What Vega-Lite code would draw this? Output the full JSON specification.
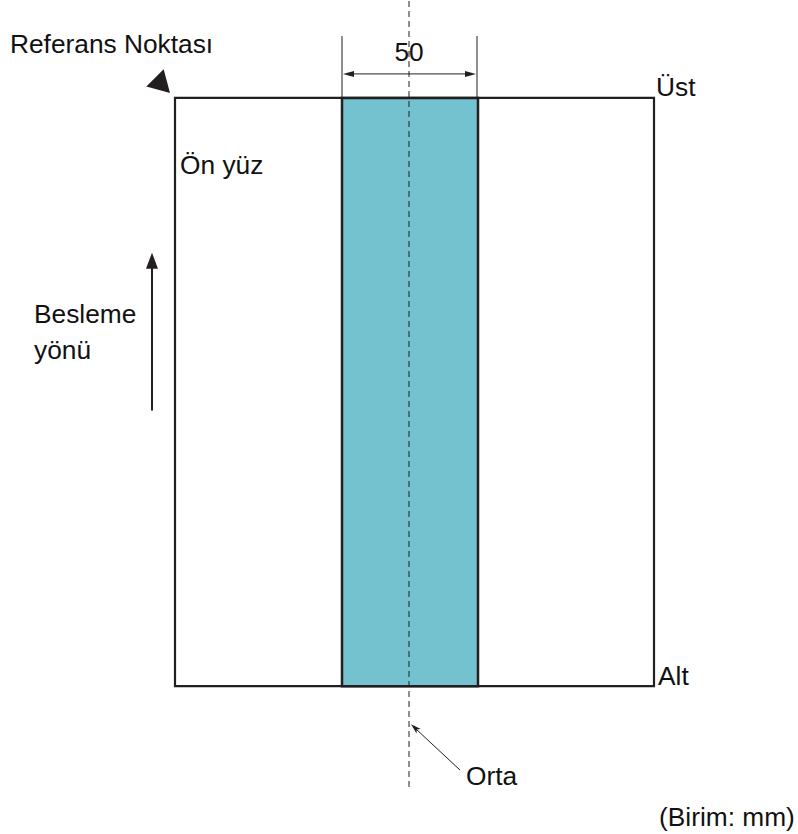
{
  "$schema": "https://vega.github.io/schema/vega-lite/v6.json",
  "width": 798,
  "height": 834,
  "autosize": {"type": "fit", "contains": "padding"},
  "padding": 0,
  "background": "white",
  "config": {"view": {"stroke": null}},
  "datasets": {
    "page": [{"x": 175, "y": 97, "x2": 654, "y2": 686}],
    "band": [{"x": 342, "y": 97, "x2": 478, "y2": 686}],
    "center": [{"x": 409, "y": 0, "x2": 409, "y2": 788}],
    "thin": [
      {"x": 342, "y": 35, "x2": 342, "y2": 97},
      {"x": 477, "y": 35, "x2": 477, "y2": 97},
      {"x": 350, "y": 73, "x2": 470, "y2": 73},
      {"x": 460, "y": 770, "x2": 414, "y2": 727}
    ],
    "shaft": [{"x": 152, "y": 410, "x2": 152, "y2": 264}],
    "headLeft": [{"x": 343, "y": 73}],
    "headRight": [{"x": 476, "y": 73}],
    "headUp": [{"x": 152, "y": 252}],
    "headOrta": [{"x": 411, "y": 724}],
    "refMark": [{"x": 170, "y": 92}],
    "labels": [
      {"label": "Referans Noktası", "x": 10, "y": 52},
      {"label": "Üst", "x": 656, "y": 95},
      {"label": "Ön yüz", "x": 180, "y": 173},
      {"label": "Besleme", "x": 34, "y": 322},
      {"label": "yönü", "x": 34, "y": 358},
      {"label": "Alt", "x": 658, "y": 685},
      {"label": "Orta", "x": 466, "y": 785},
      {"label": "(Birim: mm)", "x": 659, "y": 826}
    ],
    "dim": [{"label": "50", "x": 409, "y": 60}]
  },
  "layer": [
    {
      "data": {"name": "page"},
      "mark": {"type": "rect", "fill": "white", "stroke": "#231f20", "strokeWidth": 2.2},
      "encoding": {
        "x": {"field": "x", "type": "quantitative", "axis": null, "scale": {"domain": [0, 798], "nice": false, "zero": false}},
        "x2": {"field": "x2"},
        "y": {"field": "y", "type": "quantitative", "axis": null, "scale": {"domain": [0, 834], "nice": false, "zero": false, "reverse": true}},
        "y2": {"field": "y2"}
      }
    },
    {
      "data": {"name": "band"},
      "mark": {"type": "rect", "fill": "#74c2cf", "stroke": "#231f20", "strokeWidth": 2.5},
      "encoding": {
        "x": {"field": "x", "type": "quantitative", "axis": null},
        "x2": {"field": "x2"},
        "y": {"field": "y", "type": "quantitative", "axis": null},
        "y2": {"field": "y2"}
      }
    },
    {
      "data": {"name": "center"},
      "mark": {"type": "rule", "stroke": "#231f20", "strokeWidth": 1, "strokeDash": [6, 4]},
      "encoding": {
        "x": {"field": "x", "type": "quantitative", "axis": null},
        "x2": {"field": "x2"},
        "y": {"field": "y", "type": "quantitative", "axis": null},
        "y2": {"field": "y2"}
      }
    },
    {
      "data": {"name": "thin"},
      "mark": {"type": "rule", "stroke": "#231f20", "strokeWidth": 1},
      "encoding": {
        "x": {"field": "x", "type": "quantitative", "axis": null},
        "x2": {"field": "x2"},
        "y": {"field": "y", "type": "quantitative", "axis": null},
        "y2": {"field": "y2"}
      }
    },
    {
      "data": {"name": "shaft"},
      "mark": {"type": "rule", "stroke": "#231f20", "strokeWidth": 2},
      "encoding": {
        "x": {"field": "x", "type": "quantitative", "axis": null},
        "x2": {"field": "x2"},
        "y": {"field": "y", "type": "quantitative", "axis": null},
        "y2": {"field": "y2"}
      }
    },
    {
      "data": {"name": "headLeft"},
      "mark": {"type": "point", "shape": "M0,0L-2,-0.55L-2,0.55Z", "size": 121, "angle": 180, "filled": true, "fill": "#231f20", "opacity": 1, "strokeWidth": 0},
      "encoding": {
        "x": {"field": "x", "type": "quantitative", "axis": null},
        "y": {"field": "y", "type": "quantitative", "axis": null}
      }
    },
    {
      "data": {"name": "headRight"},
      "mark": {"type": "point", "shape": "M0,0L-2,-0.55L-2,0.55Z", "size": 121, "angle": 0, "filled": true, "fill": "#231f20", "opacity": 1, "strokeWidth": 0},
      "encoding": {
        "x": {"field": "x", "type": "quantitative", "axis": null},
        "y": {"field": "y", "type": "quantitative", "axis": null}
      }
    },
    {
      "data": {"name": "headUp"},
      "mark": {"type": "point", "shape": "M0,0L-2,-0.75L-2,0.75Z", "size": 256, "angle": 270, "filled": true, "fill": "#231f20", "opacity": 1, "strokeWidth": 0},
      "encoding": {
        "x": {"field": "x", "type": "quantitative", "axis": null},
        "y": {"field": "y", "type": "quantitative", "axis": null}
      }
    },
    {
      "data": {"name": "headOrta"},
      "mark": {"type": "point", "shape": "M0,0L-2,-0.6L-1.5,0L-2,0.6Z", "size": 110, "angle": 223, "filled": true, "fill": "#231f20", "opacity": 1, "strokeWidth": 0},
      "encoding": {
        "x": {"field": "x", "type": "quantitative", "axis": null},
        "y": {"field": "y", "type": "quantitative", "axis": null}
      }
    },
    {
      "data": {"name": "refMark"},
      "mark": {"type": "point", "shape": "M0,0L-1.732,-1L-1.732,1Z", "size": 600, "angle": 45, "filled": true, "fill": "#231f20", "opacity": 1, "strokeWidth": 0},
      "encoding": {
        "x": {"field": "x", "type": "quantitative", "axis": null},
        "y": {"field": "y", "type": "quantitative", "axis": null}
      }
    },
    {
      "data": {"name": "labels"},
      "mark": {"type": "text", "align": "left", "baseline": "alphabetic", "font": "Liberation Sans", "fontSize": 26.3, "fill": "#111111"},
      "encoding": {
        "x": {"field": "x", "type": "quantitative", "axis": null},
        "y": {"field": "y", "type": "quantitative", "axis": null},
        "text": {"field": "label"}
      }
    },
    {
      "data": {"name": "dim"},
      "mark": {"type": "text", "align": "center", "baseline": "alphabetic", "font": "Liberation Sans", "fontSize": 26.3, "fill": "#111111"},
      "encoding": {
        "x": {"field": "x", "type": "quantitative", "axis": null},
        "y": {"field": "y", "type": "quantitative", "axis": null},
        "text": {"field": "label"}
      }
    }
  ]
}
